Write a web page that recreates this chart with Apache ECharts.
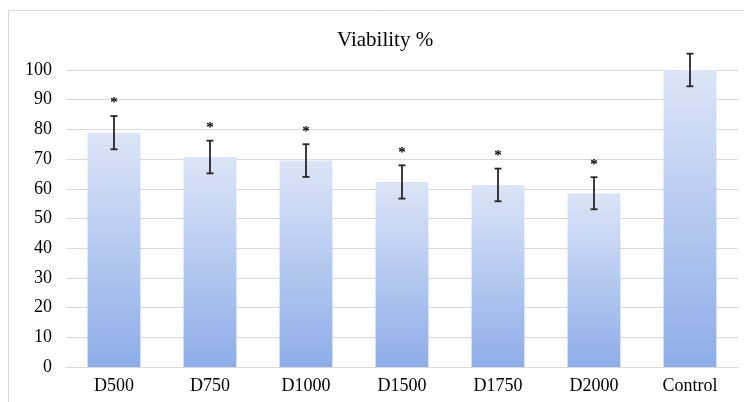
<!DOCTYPE html>
<html>
<head>
<meta charset="utf-8">
<script src="https://cdn.jsdelivr.net/npm/echarts@6/dist/echarts.min.js"></script>
<style>html,body{margin:0;padding:0;background:#fff}#c{width:744px;height:402px}</style>
</head>
<body>
<div id="c"></div>
<script>
var categories = ['D500', 'D750', 'D1000', 'D1500', 'D1750', 'D2000', 'Control'];
var viability = [78.9, 70.7, 69.5, 62.3, 61.3, 58.5, 100];
var errorSD = [5.6, 5.5, 5.5, 5.6, 5.5, 5.4, 5.5];
var marks = ['*', '*', '*', '*', '*', '*', ''];
var yTicks = [0, 10, 20, 30, 40, 50, 60, 70, 80, 90, 100];

var FONT = '"Liberation Serif", "Times New Roman", serif';
var errData = categories.map(function (c, i) {
  return [i, viability[i] - errorSD[i], viability[i] + errorSD[i], marks[i]];
});

var chart = echarts.init(document.getElementById('c'), null, {renderer: 'canvas'});
chart.setOption({
  animation: false,
  backgroundColor: '#fff',
  title: {
    text: 'Viability %', left: 332, top: 25,
    textStyle: {fontFamily: FONT, fontSize: 21, fontWeight: 'normal', color: '#000'}
  },
  graphic: [{
    type: 'rect', shape: {x: 8.5, y: 10.5, width: 760, height: 420},
    style: {fill: 'none', stroke: '#d9d9d9', lineWidth: 1}, silent: true, z: -1
  }],
  grid: {left: 66, right: 6, top: 70, bottom: 35},
  xAxis: {
    type: 'category', data: categories,
    axisLine: {lineStyle: {color: '#d9d9d9', width: 1}},
    axisTick: {show: false},
    axisLabel: {fontFamily: FONT, fontSize: 18, color: '#000', margin: 10}
  },
  yAxis: {
    type: 'value', min: yTicks[0], max: yTicks[yTicks.length - 1], interval: 10,
    axisLine: {show: false}, axisTick: {show: false},
    splitLine: {lineStyle: {color: '#d9d9d9', width: 1}},
    axisLabel: {fontFamily: FONT, fontSize: 18, color: '#000', margin: 14}
  },
  series: [{
    type: 'bar', data: viability, barWidth: '55%',
    itemStyle: {
      color: new echarts.graphic.LinearGradient(0, 0, 0, 1, [
        {offset: 0, color: '#dce5f7'},
        {offset: 1, color: '#8eade8'}
      ])
    }
  }, {
    type: 'custom', data: errData, z: 10,
    renderItem: function (params, api) {
      var x = api.value(0);
      var lo = api.coord([x, api.value(1)]);
      var hi = api.coord([x, api.value(2)]);
      var cap = 3.5;
      var children = [
        {type: 'line', shape: {x1: hi[0], y1: hi[1], x2: lo[0], y2: lo[1]}, style: {stroke: '#262626', lineWidth: 1.8}},
        {type: 'line', shape: {x1: hi[0] - cap, y1: hi[1], x2: hi[0] + cap, y2: hi[1]}, style: {stroke: '#262626', lineWidth: 1.8}},
        {type: 'line', shape: {x1: lo[0] - cap, y1: lo[1], x2: lo[0] + cap, y2: lo[1]}, style: {stroke: '#262626', lineWidth: 1.8}}
      ];
      var m = errData[params.dataIndex][3];
      if (m) {
        children.push({type: 'text', style: {text: m, x: hi[0], y: hi[1] - 5, align: 'center', verticalAlign: 'bottom',
          font: 'bold 15px ' + FONT, fill: '#000'}});
      }
      return {type: 'group', children: children};
    }
  }]
});
</script>
</body>
</html>
